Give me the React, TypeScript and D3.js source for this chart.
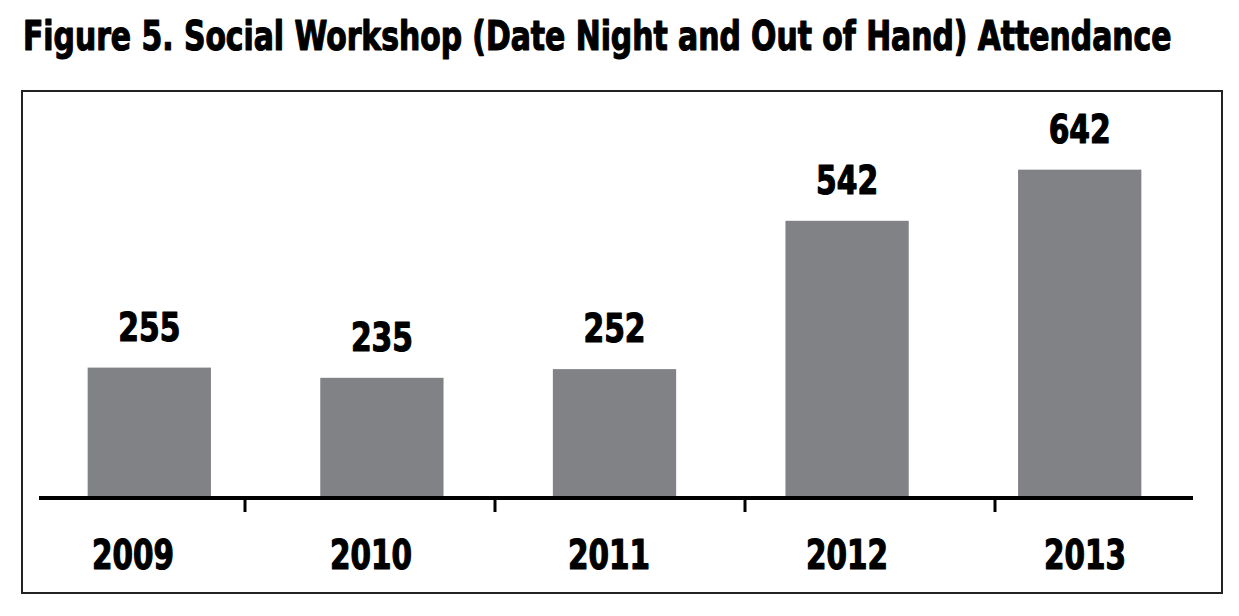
import React, { useLayoutEffect, useRef, useState } from "react";
import * as d3 from "d3";

const title = "Figure 5. Social Workshop (Date Night and Out of Hand) Attendance";
const years = ["2009", "2010", "2011", "2012", "2013"];
const attendance = [255, 235, 252, 542, 642];
const yDomain = [0, 700];

const W = 1239;
const H = 616;
const FONT = "'DejaVu Sans Condensed', 'Liberation Sans Narrow', sans-serif";

type FitProps = {
  x: number;
  y: number;
  width: number;
  fontSize: number;
  anchor: "start" | "middle";
  text: string;
  stroke?: number;
};

function FitText({ x, y, width, fontSize, anchor, text, stroke = 1 }: FitProps) {
  const ref = useRef<SVGTextElement>(null);
  const [sx, setSx] = useState(1);
  useLayoutEffect(() => {
    if (ref.current) {
      const w = ref.current.getComputedTextLength();
      if (w > 0) setSx(width / w);
    }
  }, [text, width, fontSize]);
  return (
    <text
      ref={ref}
      transform={`translate(${x},${y}) scale(${sx},1)`}
      textAnchor={anchor}
      fontFamily={FONT}
      fontWeight="bold"
      fontSize={fontSize}
      fill="#000"
      stroke="#000"
      strokeWidth={stroke}
      strokeLinejoin="round"
    >
      {text}
    </text>
  );
}

export default function App() {
  const barX = d3.scaleBand<string>().domain(years).range([33, 1196]).padding(0);
  const labelX = d3.scaleBand<string>().domain(years).range([14, 1204]).padding(0);
  const tickX = d3.scaleBand<string>().domain(years).range([-5, 1245]).padding(0);
  const y = d3.scaleLinear().domain(yDomain).range([498, 140]);
  const barW = barX.bandwidth() * 0.53;

  return (
    <svg
      width={W}
      height={H}
      style={{ position: "absolute", left: 0, top: 0, background: "#fff" }}
    >
      <FitText x={23} y={50} width={1149} fontSize={41} anchor="start" text={title} stroke={1.2} />
      <rect x={22} y={91} width={1200} height={502} fill="none" stroke="#222" strokeWidth={2} />
      {years.map((yr, i) => {
        const cx = (barX(yr) as number) + barX.bandwidth() / 2;
        const v = attendance[i];
        return (
          <g key={yr}>
            <rect x={cx - barW / 2} y={y(v)} width={barW} height={y(0) - y(v)} fill="#818285" />
            <FitText x={cx} y={y(v) - 27} width={62} fontSize={39} anchor="middle" text={String(v)} stroke={1.2} />
          </g>
        );
      })}
      <line x1={39} x2={1193} y1={498} y2={498} stroke="#000" strokeWidth={4} />
      {years.slice(1).map((yr) => (
        <line
          key={"t" + yr}
          x1={tickX(yr) as number}
          x2={tickX(yr) as number}
          y1={498}
          y2={512}
          stroke="#000"
          strokeWidth={3}
        />
      ))}
      {years.map((yr) => (
        <FitText
          key={"l" + yr}
          x={(labelX(yr) as number) + labelX.bandwidth() / 2}
          y={569}
          width={82}
          fontSize={40}
          anchor="middle"
          text={yr}
          stroke={1.2}
        />
      ))}
    </svg>
  );
}
